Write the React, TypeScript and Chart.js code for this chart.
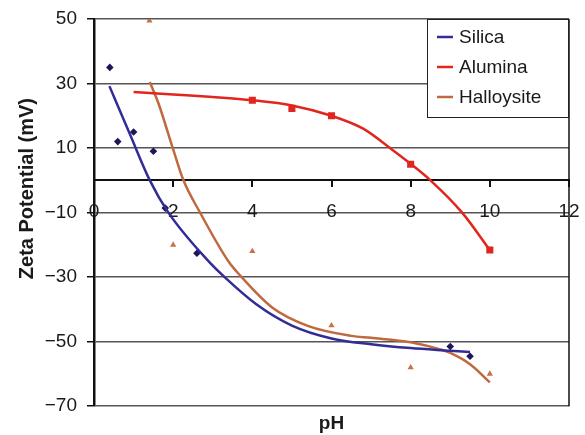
import React, { useEffect, useRef } from 'react';
import { Chart, registerables } from 'chart.js';

Chart.register(...registerables);

// Axis ticks
const xTickValues = [0, 2, 4, 6, 8, 10, 12];
const yTickValues = [-70, -50, -30, -10, 10, 30, 50];

// Measured points
const silicaPH = [0.4, 0.6, 1.0, 1.5, 1.8, 2.6, 9.0, 9.5];
const silicaZeta = [35, 12, 15, 9, -8.6, -22.6, -51.5, -54.5];
const aluminaPH = [4, 5, 6, 8, 10];
const aluminaZeta = [24.8, 22.3, 20, 5, -21.6];
const halloysitePH = [1.4, 2, 4, 6, 8, 10];
const halloysiteZeta = [49.5, -20, -22, -45, -58, -60];

// Trend lines
const silicaFitPH = [0.39, 0.9, 1.41, 1.88, 2.85, 3.3, 4.1, 5.0, 6.0, 7.0, 8.0, 9.0, 9.5];
const silicaFitZeta = [29.2, 14.5, 0, -10, -24.5, -30, -38.4, -45, -49, -50.8, -52, -52.8, -53.2];
const aluminaFitPH = [1.0, 2.0, 3.0, 4.0, 5.0, 6.0, 6.8, 7.5, 8.0, 8.5, 9.3, 10.0];
const aluminaFitZeta = [27.4, 26.6, 25.8, 24.8, 23.2, 20, 16, 9.8, 5.1, 0, -10, -21.6];
const halloysiteFitPH = [1.41, 1.63, 1.99, 2.26, 2.68, 3.39, 3.7, 4.5, 5.4, 6.5, 7.0, 8.0, 8.8, 9.0, 9.5, 10.0];
const halloysiteFitZeta = [30.5, 23.8, 10, 0, -10, -25, -29.6, -39.4, -45.1, -48.2, -48.8, -50.2, -52.6, -53.5, -57, -62.6];

const seriesNames = ['Silica', 'Alumina', 'Halloysite'];
const lineColors = ['#322d96', '#e0261e', '#bf6a3e'];
const markerColors = ['#1e1658', '#e0261e', '#c7714a'];

const toXY = (xs: number[], ys: number[]) => xs.map((x, i) => ({ x, y: ys[i] }));
const fmt = (v: number) => (v < 0 ? '\u2212' + Math.abs(v) : String(v));

const FONT = "'Liberation Sans', Arial, Helvetica, sans-serif";
const Y_TITLE = 'Zeta Potential (mV)';

const borderPlugin = {
  id: 'rightBorder',
  afterDatasetsDraw(chart: any) {
    const { ctx, chartArea } = chart;
    ctx.save();
    ctx.strokeStyle = '#111';
    ctx.lineWidth = 1.5;
    ctx.beginPath();
    ctx.moveTo(chartArea.right, chartArea.top);
    ctx.lineTo(chartArea.right, chartArea.bottom);
    ctx.stroke();
    ctx.restore();
  },
};

const yTitlePlugin = {
  id: 'yTitle',
  afterDraw(chart: any) {
    const { ctx, chartArea } = chart;
    ctx.save();
    ctx.translate(27, (chartArea.top + chartArea.bottom) / 2 - 24);
    ctx.rotate(-Math.PI / 2);
    ctx.font = `bold 20px ${FONT}`;
    ctx.fillStyle = '#1a1a1a';
    ctx.textAlign = 'center';
    ctx.textBaseline = 'middle';
    ctx.fillText(Y_TITLE, 0, 0);
    ctx.restore();
  },
};

const legendPlugin = {
  id: 'boxLegend',
  afterDraw(chart: any) {
    const { ctx, chartArea } = chart;
    const w = 142;
    const h = 99;
    const x0 = chartArea.right - w;
    const y0 = chartArea.top;
    ctx.save();
    ctx.fillStyle = '#ffffff';
    ctx.fillRect(x0, y0, w, h);
    ctx.strokeStyle = '#222';
    ctx.lineWidth = 1;
    ctx.strokeRect(x0 + 0.5, y0 + 0.5, w - 1, h - 1);
    const items = chart.data.datasets.filter((d: any) => d.isTrend);
    ctx.font = `19px ${FONT}`;
    ctx.textBaseline = 'middle';
    ctx.textAlign = 'left';
    items.forEach((d: any, i: number) => {
      const y = y0 + 18 + i * 30;
      ctx.strokeStyle = d.borderColor;
      ctx.lineWidth = 2.5;
      ctx.beginPath();
      ctx.moveTo(x0 + 10, y);
      ctx.lineTo(x0 + 26, y);
      ctx.stroke();
      ctx.fillStyle = '#1a1a1a';
      ctx.fillText(d.label, x0 + 32, y + 1);
    });
    ctx.restore();
  },
};

export default function App() {
  const ref = useRef<HTMLCanvasElement | null>(null);

  useEffect(() => {
    if (!ref.current) return;
    const trend = [
      toXY(silicaFitPH, silicaFitZeta),
      toXY(aluminaFitPH, aluminaFitZeta),
      toXY(halloysiteFitPH, halloysiteFitZeta),
    ];
    const pts = [
      toXY(silicaPH, silicaZeta),
      toXY(aluminaPH, aluminaZeta),
      toXY(halloysitePH, halloysiteZeta),
    ];
    const shapes = ['rectRot', 'rect', 'triangle'];
    const radii = [3.8, 5, 3.6];

    const datasets: any[] = [];
    seriesNames.forEach((name, i) => {
      datasets.push({
        label: name,
        isTrend: true,
        data: trend[i],
        borderColor: lineColors[i],
        backgroundColor: lineColors[i],
        borderWidth: 2.5,
        pointRadius: 0,
        cubicInterpolationMode: 'monotone',
        fill: false,
      });
    });
    seriesNames.forEach((name, i) => {
      datasets.push({
        label: name + ' data',
        isTrend: false,
        data: pts[i],
        showLine: false,
        pointStyle: shapes[i],
        pointRadius: radii[i],
        pointBackgroundColor: markerColors[i],
        pointBorderColor: markerColors[i],
        pointBorderWidth: 0,
      });
    });

    const chart = new Chart(ref.current, {
      type: 'line',
      data: { datasets },
      plugins: [borderPlugin, yTitlePlugin, legendPlugin],
      options: {
        animation: false,
        responsive: false,
        devicePixelRatio: 1,
        layout: { padding: { left: 0, right: 16, top: 19, bottom: 0 } },
        plugins: {
          legend: { display: false },
          tooltip: { enabled: false },
          title: {
            display: true,
            text: 'pH',
            position: 'bottom',
            fullSize: false,
            color: '#1a1a1a',
            font: { family: FONT, size: 19, weight: 'bold' },
            padding: { top: 6, bottom: 0 },
          },
        },
        scales: {
          x: {
            type: 'linear',
            min: 0,
            max: 12,
            position: { y: 0 } as any,
            afterBuildTicks: (s: any) => {
              s.ticks = xTickValues.map((v) => ({ value: v }));
            },
            afterFit: (s: any) => {
              s.paddingLeft = 0;
              s.paddingRight = 0;
            },
            ticks: {
              color: '#1a1a1a',
              font: { family: FONT, size: 19 },
              padding: 14,
              maxRotation: 0,
              autoSkip: false,
              callback: (v: any) => fmt(Number(v)),
            },
            grid: {
              drawOnChartArea: false,
              drawTicks: true,
              tickLength: 6,
              color: '#111',
              lineWidth: 2,
            },
            border: { display: true, color: '#111', width: 2 },
          },
          y: {
            type: 'linear',
            min: -70,
            max: 50,
            afterBuildTicks: (s: any) => {
              s.ticks = yTickValues.map((v) => ({ value: v }));
            },
            afterFit: (s: any) => {
              s.width = 94;
              s.paddingTop = 0;
              s.paddingBottom = 0;
            },
            ticks: {
              color: '#1a1a1a',
              font: { family: FONT, size: 19 },
              padding: 10,
              autoSkip: false,
              callback: (v: any) => fmt(Number(v)),
            },
            grid: {
              color: '#555',
              lineWidth: 1.5,
              tickLength: 7,
              tickColor: '#111',
              tickWidth: 1.5,
            },
            border: { display: true, color: '#111', width: 2.5 },
            title: { display: false },
          },
        },
      } as any,
    });
    return () => chart.destroy();
  }, []);

  return (
    <div style={{ position: 'fixed', left: 0, top: 0, width: 585, height: 435, background: '#fff' }}>
      <canvas ref={ref} width={585} height={435} style={{ display: 'block' }} />
    </div>
  );
}
